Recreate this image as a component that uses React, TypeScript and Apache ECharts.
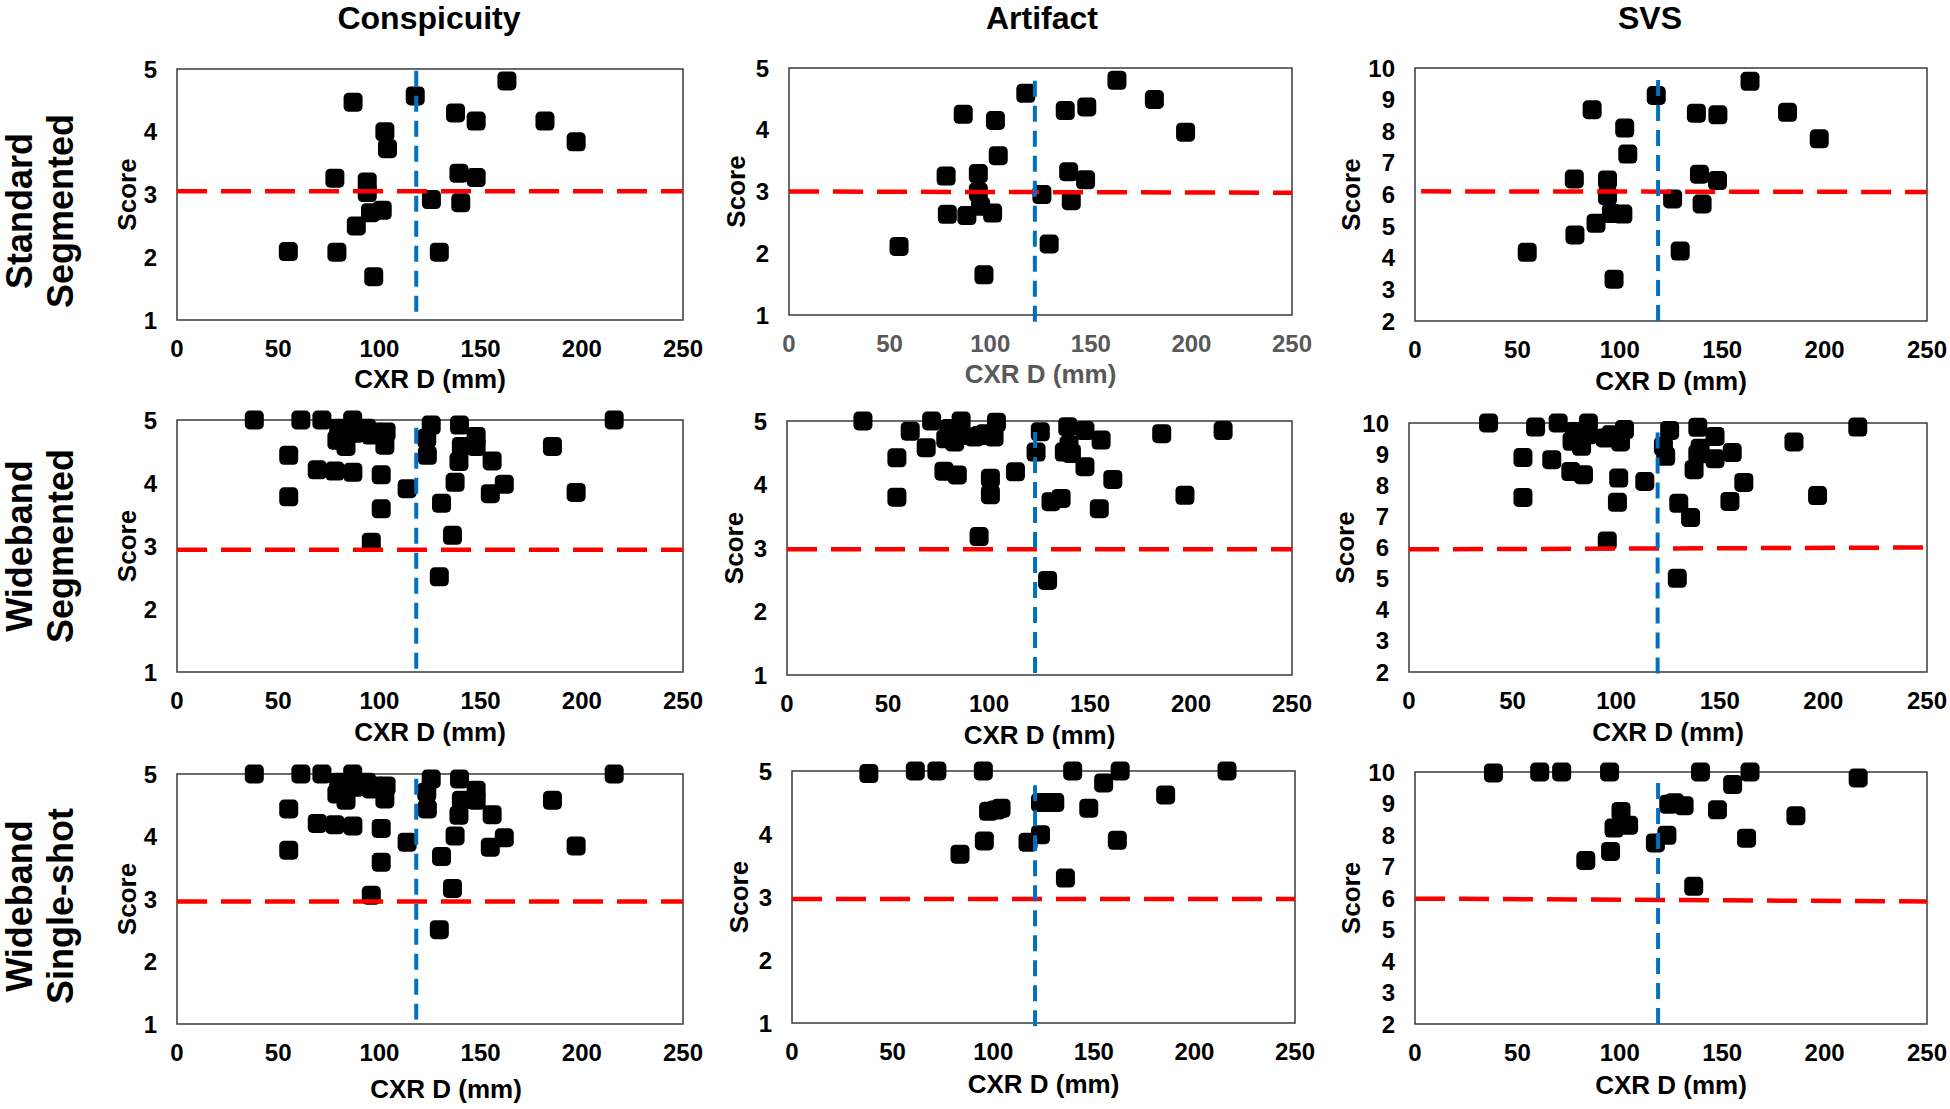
import React, { useEffect, useRef } from 'react';
import * as echarts from 'echarts';

// ---------- data ----------
const columnTitles = ['Conspicuity', 'Artifact', 'SVS'];
const rowTitles = [
  ['Standard', 'Segmented'],
  ['Wideband', 'Segmented'],
  ['Wideband', 'Single-shot'],
];
const xTicks = [0, 50, 100, 150, 200, 250];
const xAxisTitle = 'CXR D (mm)';
const yAxisTitle = 'Score';

const ssConspicuity = [[55, 2.09], [79, 2.08], [87, 4.47], [78, 3.26], [94, 3.2], [94, 3.03], [88.6, 2.5], [95.6, 2.71], [101.4, 2.75], [102.7, 4.0], [104, 3.73], [97.2, 1.69], [117.7, 4.57], [125.7, 2.92], [129.6, 2.08], [137.6, 4.3], [147.8, 4.17], [139.3, 3.34], [147.8, 3.27], [140.2, 2.87], [163, 4.81], [181.8, 4.17], [197.2, 3.84]];
const ssArtifact = [[54.7, 2.11], [78.1, 3.25], [78.7, 2.63], [86.6, 4.25], [88.4, 2.61], [94.1, 3.29], [94.1, 2.99], [95.2, 2.76], [101.2, 2.65], [96.9, 1.65], [102.6, 4.15], [104, 3.58], [117.7, 4.59], [125.7, 2.95], [129.3, 2.15], [137.3, 4.31], [148, 4.37], [139, 3.32], [147.4, 3.19], [140.3, 2.85], [163, 4.8], [181.6, 4.49], [197.1, 3.96]];
const ssSVS = [[54.8, 4.17], [78.1, 4.72], [77.8, 6.49], [86.5, 8.68], [88.4, 5.09], [94, 6.46], [94, 5.96], [95.9, 5.4], [101.5, 5.38], [97.2, 3.32], [102.4, 8.1], [103.9, 7.28], [117.8, 9.13], [125.8, 5.86], [129.5, 4.21], [137.4, 8.57], [147.9, 8.52], [138.9, 6.64], [147.7, 6.44], [140.2, 5.7], [163.6, 9.58], [181.9, 8.6], [197.4, 7.76]];

const wsConspicuity = [[38.2, 5.0], [61.2, 5.0], [71.6, 5.0], [86.8, 5.0], [55.2, 4.44], [55.2, 3.78], [69.3, 4.21], [78, 4.19], [86.9, 4.17], [79, 4.68], [79.9, 4.87], [83.5, 4.58], [88.1, 4.79], [93.6, 4.87], [96, 4.76], [98.1, 4.81], [103.3, 4.81], [102.7, 4.6], [100.9, 4.13], [100.9, 3.59], [96, 3.06], [113.7, 3.91], [123.4, 4.71], [125.6, 4.92], [123.7, 4.44], [130.7, 3.68], [129.6, 2.51], [136.1, 3.17], [137.4, 4.01], [139.3, 4.34], [139.6, 4.92], [140.5, 4.58], [147.8, 4.74], [147.8, 4.58], [155.7, 4.35], [154.8, 3.83], [161.7, 3.98], [185.5, 4.58], [197.2, 3.85], [216, 5.0]];
const wsArtifact = [[37.6, 5.0], [61, 4.84], [71.6, 5.0], [86.2, 5.0], [54.4, 4.42], [54.4, 3.8], [68.9, 4.58], [77.7, 4.21], [84.3, 4.15], [78.6, 4.72], [80.4, 4.88], [83, 4.67], [85.7, 4.77], [92.8, 4.75], [95.4, 4.77], [98.1, 4.8], [102.5, 4.75], [103.7, 4.98], [100.7, 4.1], [100.7, 3.84], [95.1, 3.18], [113.1, 4.2], [125.4, 4.83], [123.3, 4.51], [129, 2.49], [130.7, 3.73], [135.7, 3.78], [137.3, 4.51], [139.6, 4.62], [139, 4.91], [140.8, 4.49], [147.5, 4.85], [147.5, 4.28], [155.5, 4.7], [154.6, 3.62], [161.3, 4.08], [185.5, 4.8], [197, 3.83], [215.9, 4.85]];
const wsSVS = [[38.4, 10.0], [61.1, 9.87], [72, 10.0], [86.6, 10.0], [55, 8.89], [55, 7.61], [68.9, 8.82], [78.1, 8.44], [84.2, 8.34], [78.7, 9.41], [80, 9.73], [83.3, 9.25], [86.4, 9.62], [94.7, 9.52], [97.5, 9.62], [102.1, 9.39], [104, 9.79], [101.2, 8.23], [100.6, 7.45], [95.7, 6.21], [113.8, 8.12], [125.8, 9.76], [122.8, 9.25], [123.9, 8.93], [130.2, 7.42], [129.5, 5.01], [135.9, 6.96], [137.6, 8.5], [139.4, 9.86], [139.4, 9.0], [140.5, 9.19], [147.7, 9.57], [147.7, 8.85], [156, 9.05], [154.9, 7.48], [161.6, 8.09], [185.8, 9.39], [197.2, 7.67], [216.6, 9.87]];

const wssConspicuity = [[38.2, 5.0], [61.2, 5.0], [71.6, 5.0], [86.8, 5.0], [55.2, 4.44], [55.2, 3.78], [69.3, 4.21], [78, 4.19], [86.9, 4.17], [79, 4.68], [79.9, 4.87], [83.5, 4.58], [88.1, 4.79], [93.6, 4.87], [96, 4.76], [98.1, 4.81], [103.3, 4.81], [102.7, 4.6], [100.9, 4.13], [100.9, 3.59], [96, 3.06], [113.7, 3.91], [123.4, 4.71], [125.6, 4.92], [123.7, 4.44], [130.7, 3.68], [129.6, 2.51], [136.1, 3.17], [137.4, 4.01], [139.3, 4.34], [139.6, 4.92], [140.5, 4.58], [147.8, 4.74], [147.8, 4.58], [155.7, 4.35], [154.8, 3.83], [161.7, 3.98], [185.5, 4.58], [197.2, 3.85], [216, 5.0]];
const wssArtifact = [[38.2, 4.96], [61.3, 5.0], [72, 5.0], [95.1, 5.0], [139.5, 5.0], [163.1, 5.0], [216.2, 5.0], [83.5, 3.68], [95.6, 3.89], [97.7, 4.36], [101.3, 4.38], [103.9, 4.41], [117.3, 3.87], [123.5, 3.99], [123.5, 4.5], [126.2, 4.5], [130.6, 4.5], [135.9, 3.3], [147.5, 4.41], [154.9, 4.81], [161.7, 3.9], [185.7, 4.62]];
const wssSVS = [[38.3, 9.97], [60.9, 10.0], [71.6, 10.0], [95, 10.0], [139.4, 10.0], [163.6, 10.0], [216.4, 9.81], [83.4, 7.19], [95.5, 7.48], [97.2, 8.22], [100.6, 8.75], [104.3, 8.31], [117.4, 7.75], [123, 7.99], [123.9, 8.98], [126.7, 9.02], [131.4, 8.93], [136.1, 6.37], [147.7, 8.8], [155.1, 9.6], [161.9, 7.9], [186, 8.61]];

const panelData = [ssConspicuity, ssArtifact, ssSVS, wsConspicuity, wsArtifact, wsSVS, wssConspicuity, wssArtifact, wssSVS];
const yRanges = [[1, 5], [1, 5], [2, 10], [1, 5], [1, 5], [2, 10], [1, 5], [1, 5], [2, 10]];

// red dashed threshold lines: [x start, y start, x end, y end]
const thresholdLines = [
  [0, 3.05, 250, 3.05], [0, 3.0, 250, 2.98], [3, 6.1, 250, 6.08],
  [0, 2.94, 250, 2.94], [0, 2.98, 250, 2.98], [0, 5.94, 250, 6.0],
  [0, 2.96, 250, 2.96], [0, 2.97, 250, 2.97], [0, 5.98, 250, 5.89],
];
// blue dashed median lines: [x, y bottom, y top]
const medianLines = [
  [118.2, 1.13, 5.03], [122.2, 0.89, 4.85], [118.7, 2.0, 9.81],
  [118.2, 1.05, 4.95], [122.8, 1.03, 4.88], [120, 1.95, 9.84],
  [118.2, 1.07, 5.0], [120.8, 0.95, 4.86], [118.7, 2.0, 9.79],
];

// ---------- layout ----------
const layout = [
  { left: 177, top: 69, width: 506, height: 251, scoreGap: 35, nameGap: 46, pad: 0, gray: false },
  { left: 789, top: 68, width: 503, height: 247, scoreGap: 40, nameGap: 46, pad: 0, gray: true },
  { left: 1415, top: 68, width: 512, height: 253, scoreGap: 51, nameGap: 47, pad: 0, gray: false },
  { left: 177, top: 420, width: 506, height: 252, scoreGap: 35, nameGap: 47, pad: 0, gray: false },
  { left: 787, top: 421, width: 505, height: 254, scoreGap: 40, nameGap: 47, pad: 0, gray: false },
  { left: 1409, top: 423, width: 518, height: 249, scoreGap: 51, nameGap: 47, pad: 0, gray: false },
  { left: 177, top: 774, width: 506, height: 250, scoreGap: 35, nameGap: 52, pad: 32, gray: false },
  { left: 792, top: 771, width: 503, height: 252, scoreGap: 40, nameGap: 48, pad: 0, gray: false },
  { left: 1415, top: 772, width: 512, height: 252, scoreGap: 51, nameGap: 48, pad: 0, gray: false },
];
const titleX = [429, 1042, 1650];
const rowCenterY = [211, 546, 906];

const FONT = '"Liberation Sans", Arial, sans-serif';

function buildOption() {
  const grid: any[] = [];
  const xAxis: any[] = [];
  const yAxis: any[] = [];
  const series: any[] = [];
  layout.forEach((L, i) => {
    grid.push({
      left: L.left, top: L.top, width: L.width, height: L.height,
      show: true, borderColor: '#3a3a3a', borderWidth: 1.5, backgroundColor: 'transparent',
    });
    const labelColor = L.gray ? '#595959' : '#000';
    xAxis.push({
      type: 'value', gridIndex: i, min: xTicks[0], max: xTicks[xTicks.length - 1], interval: 50,
      axisLine: { show: false }, axisTick: { show: false }, splitLine: { show: false },
      axisLabel: { color: labelColor, fontFamily: FONT, fontWeight: 'bold', fontSize: 24, margin: 16 },
      name: xAxisTitle, nameLocation: 'middle', nameGap: L.nameGap,
      nameTextStyle: { color: labelColor, fontFamily: FONT, fontWeight: 'bold', fontSize: 26, padding: [0, 0, 0, L.pad] },
    });
    const [ymin, ymax] = yRanges[i];
    yAxis.push({
      type: 'value', gridIndex: i, min: ymin, max: ymax, interval: 1,
      axisLine: { show: false }, axisTick: { show: false }, splitLine: { show: false },
      axisLabel: { color: '#000', fontFamily: FONT, fontWeight: 'bold', fontSize: 24, margin: 20 },
      name: yAxisTitle, nameLocation: 'middle', nameGap: L.scoreGap, nameRotate: 90,
      nameTextStyle: { color: '#000', fontFamily: FONT, fontWeight: 'bold', fontSize: 26 },
    });
    series.push({
      type: 'scatter', xAxisIndex: i, yAxisIndex: i, data: panelData[i],
      symbol: 'roundRect', symbolSize: 19, itemStyle: { color: '#000', opacity: 1 }, z: 2, silent: true,
    });
    const t = thresholdLines[i];
    series.push({
      type: 'line', xAxisIndex: i, yAxisIndex: i, data: [[t[0], t[1]], [t[2], t[3]]],
      symbol: 'none', clip: false, silent: true, z: 3,
      lineStyle: { color: '#FF0000', width: 4.5, type: [30, 14] },
    });
    const m = medianLines[i];
    series.push({
      type: 'line', xAxisIndex: i, yAxisIndex: i, data: [[m[0], m[1]], [m[0], m[2]]],
      symbol: 'none', clip: false, silent: true, z: 4,
      lineStyle: { color: '#0070C0', width: 4, type: [16, 9] },
    });
  });

  const graphic: any[] = [];
  columnTitles.forEach((t, c) => {
    graphic.push({
      type: 'text', x: titleX[c], y: 18,
      style: { text: t, fill: '#000', fontFamily: FONT, fontWeight: 'bold', fontSize: 32, align: 'center', verticalAlign: 'middle' },
    });
  });
  rowTitles.forEach((lines, r) => {
    lines.forEach((t, k) => {
      graphic.push({
        type: 'text', x: k === 0 ? 19 : 60, y: rowCenterY[r], rotation: Math.PI / 2,
        style: { text: t, fill: '#000', fontFamily: FONT, fontWeight: 'bold', fontSize: 36, align: 'center', verticalAlign: 'middle' },
      });
    });
  });

  return { animation: false, backgroundColor: '#fff', grid, xAxis, yAxis, series, graphic };
}

export default function App() {
  const ref = useRef<HTMLDivElement>(null);
  useEffect(() => {
    if (!ref.current) return;
    const chart = echarts.init(ref.current, undefined, { renderer: 'svg' });
    chart.setOption(buildOption() as any);
    return () => chart.dispose();
  }, []);
  return (
    <div
      ref={ref}
      style={{ position: 'absolute', left: 0, top: 0, width: 1950, height: 1109, background: '#fff' }}
    />
  );
}
